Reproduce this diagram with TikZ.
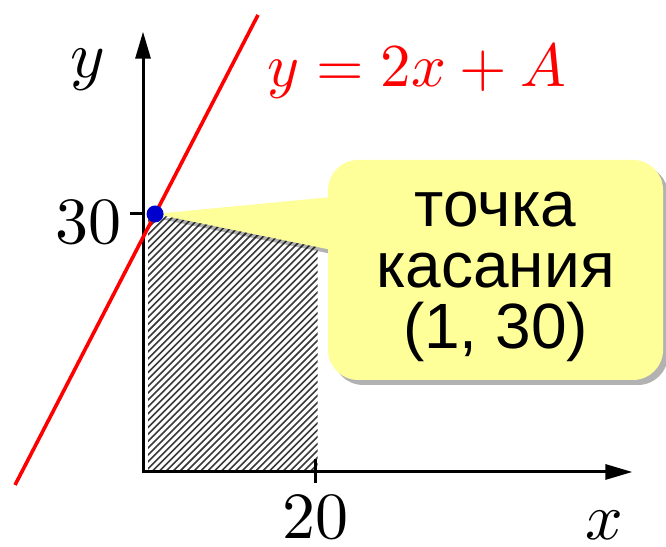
\documentclass[tikz,border=0pt]{standalone}
\usepackage{fontspec}
\usepackage{xcolor}
\usepackage{graphicx}
\usetikzlibrary{arrows.meta,calc,shadows}
\newfontfamily\notefont{Liberation Sans}
\definecolor{LineRed}{HTML}{FF0000}
\definecolor{DotBlue}{HTML}{0000CC}
\definecolor{NoteYellow}{HTML}{FFFF99}
\definecolor{Hatch}{HTML}{3A3A3A}
\newcommand{\bigmath}[2][3.3]{\scalebox{#1}{$#2$}}

\begin{document}
\begin{tikzpicture}[
  x=4.3pt,y=4.3pt,
  axis/.style={-{Triangle[length=13.5pt,width=7.5pt]},line width=1.5pt},
  tick/.style={line width=1.5pt},
  hatchline/.style={draw=Hatch,line width=0.8pt},
  graph/.style={draw=LineRed,line width=1.8pt},
  dot/.style={circle,fill=DotBlue,inner sep=0pt,minimum size=8.5pt},
  note/.style={rounded corners=15pt,fill=NoteYellow,minimum width=167.5pt,minimum height=110pt},
  notetext/.style={align=center,inner sep=0pt,font=\notefont\fontsize{32}{30.5}\selectfont},
  noteshadow/.style={drop shadow={shadow xshift=2.5pt,shadow yshift=-2.5pt,fill=black,opacity=0.3}},
  lbl/.style={font=\fontsize{10}{12}\selectfont,inner sep=0pt}
]
\useasboundingbox (-16.63,-8.72) rectangle (60.81,54.88);
% hatched area
\begin{scope}
\clip (0.6,0) rectangle (20.3,30);
\foreach \c in {-31,-30.2,...,21}
  \draw[hatchline] (\c,0) -- ++(32,32);
\end{scope}
% axes
\coordinate (xstart) at (-0.15,0);
\coordinate (xend) at (56.9,0);
\coordinate (ystart) at (0,-0.15);
\coordinate (yend) at (0,51.2);
\draw[axis] (xstart) -- (xend);
\draw[axis] (ystart) -- (yend);
\coordinate (t20) at (20,0);
\coordinate (t30) at (0,30);
\draw[tick] ($(t20)+(0,-1.3)$) -- ($(t20)+(0,1.5)$);
\draw[tick] ($(t30)+(-1.5,0)$) -- (t30);
\node[lbl,anchor=base] (l20) at (20,-7.7) {\bigmath{20}};
\node[lbl,anchor=base east] (l30) at (-2.5,26.6) {\bigmath{30}};
\node[lbl,anchor=base] (lx) at (53.7,-7.8) {\bigmath{x}};
\node[lbl,anchor=base] (ly) at (-6.4,45.9) {\bigmath{y}};
% tangent point and callout
\coordinate (touch) at (1.4,30);
\coordinate (ptrtop) at (21.98,31.98);
\coordinate (ptrbot) at (21.98,25.81);
\fill[NoteYellow,noteshadow] (touch) -- (ptrtop) -- (ptrbot) -- cycle;
\node[note,noteshadow] (callout) at (40.99,23.49) {};
\node[notetext] (calltext) at ($(callout.center)+(0,-0.75)$) {точка\\касания\\(1, 30)};
% line y = 2x + A
\coordinate (lineA) at (-14.88,-1.51);
\coordinate (lineB) at (13.37,53.14);
\draw[graph] (lineA) -- (lineB);
\node[dot] (touchdot) at (touch) {};
\node[lbl,text=LineRed,anchor=base west] (eq) at (14.4,44.77) {\bigmath[3.05]{y = 2x + A}};
\end{tikzpicture}
\end{document}
